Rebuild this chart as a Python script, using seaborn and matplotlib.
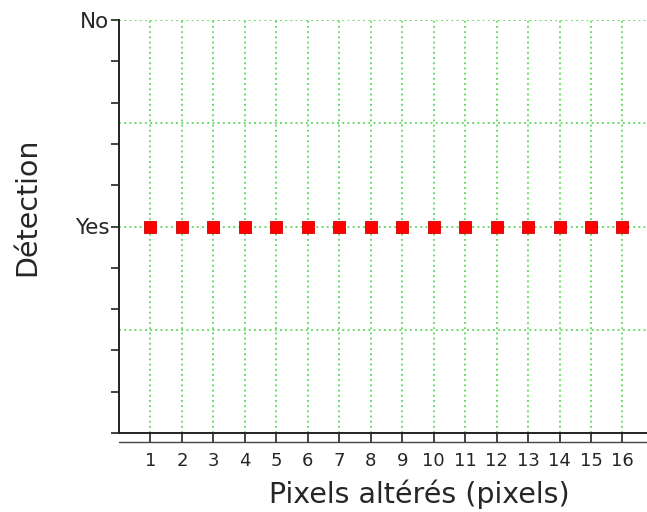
import numpy as np
import pandas as pd
import matplotlib
matplotlib.use("Agg")
import matplotlib.pyplot as plt
import seaborn as sns

# Detection result for each number of altered pixels
pixels = [1, 2, 3, 4, 5, 6, 7, 8, 9, 10, 11, 12, 13, 14, 15, 16]
detection = ["Yes", "Yes", "Yes", "Yes", "Yes", "Yes", "Yes", "Yes",
             "Yes", "Yes", "Yes", "Yes", "Yes", "Yes", "Yes", "Yes"]
levels = {"Yes": 0.0, "No": 1.0}

df = pd.DataFrame({"pixels": pixels,
                   "level": [levels[d] for d in detection]})

sns.set_style("white")
plt.rcParams["font.family"] = ["DejaVu Sans"]

fig = plt.figure(figsize=(6.47, 5.12), dpi=100)
ax = fig.add_axes([119 / 647, 79 / 512, 528 / 647, 413 / 512])

grid_kw = dict(color="#3ad13a", linestyle=(0, (1.2, 2.2)), linewidth=1.1, zorder=0)
for x in range(0, 17):
    ax.axvline(x, **grid_kw)
for y in [-0.5, 0.0, 0.5, 1.0]:
    ax.axhline(y, **grid_kw)

sns.scatterplot(data=df, x="pixels", y="level", marker="s", s=64,
                color="#ff0000", edgecolor="#d00000", linewidth=0.6,
                zorder=3, ax=ax, legend=False)

ax.set_xlim(0, 16.78)
ax.set_ylim(-1, 1)

ax.set_xticks(pixels)
ax.set_xticklabels([str(p) for p in pixels], fontsize=13)
yt = np.round(np.linspace(-1, 1, 11), 2)
ax.set_yticks(yt)
ax.set_yticklabels(["Yes" if v == 0 else ("No" if v == 1 else "") for v in yt],
                   fontsize=15.5)

ax.tick_params(axis="x", direction="out", length=6.5, width=1.2,
               color="#222222", pad=7, bottom=True)
ax.tick_params(axis="y", direction="out", length=6, width=1.2,
               color="#222222", pad=1, left=True)

for side in ["top", "right"]:
    ax.spines[side].set_visible(False)
for side in ["left", "bottom"]:
    ax.spines[side].set_color("#222222")
    ax.spines[side].set_linewidth(1.4)

# second rule under the x ticks
ax.axhline(-1 - 9 / 413 * 2, color="#444444", linewidth=1.0, clip_on=False, zorder=1)

ax.set_xlabel("Pixels altérés (pixels)", fontsize=20.5, labelpad=7, x=0.569)
ax.set_ylabel("Détection", fontsize=20.5, labelpad=24, y=0.548)

fig.savefig("out.png", dpi=100)
